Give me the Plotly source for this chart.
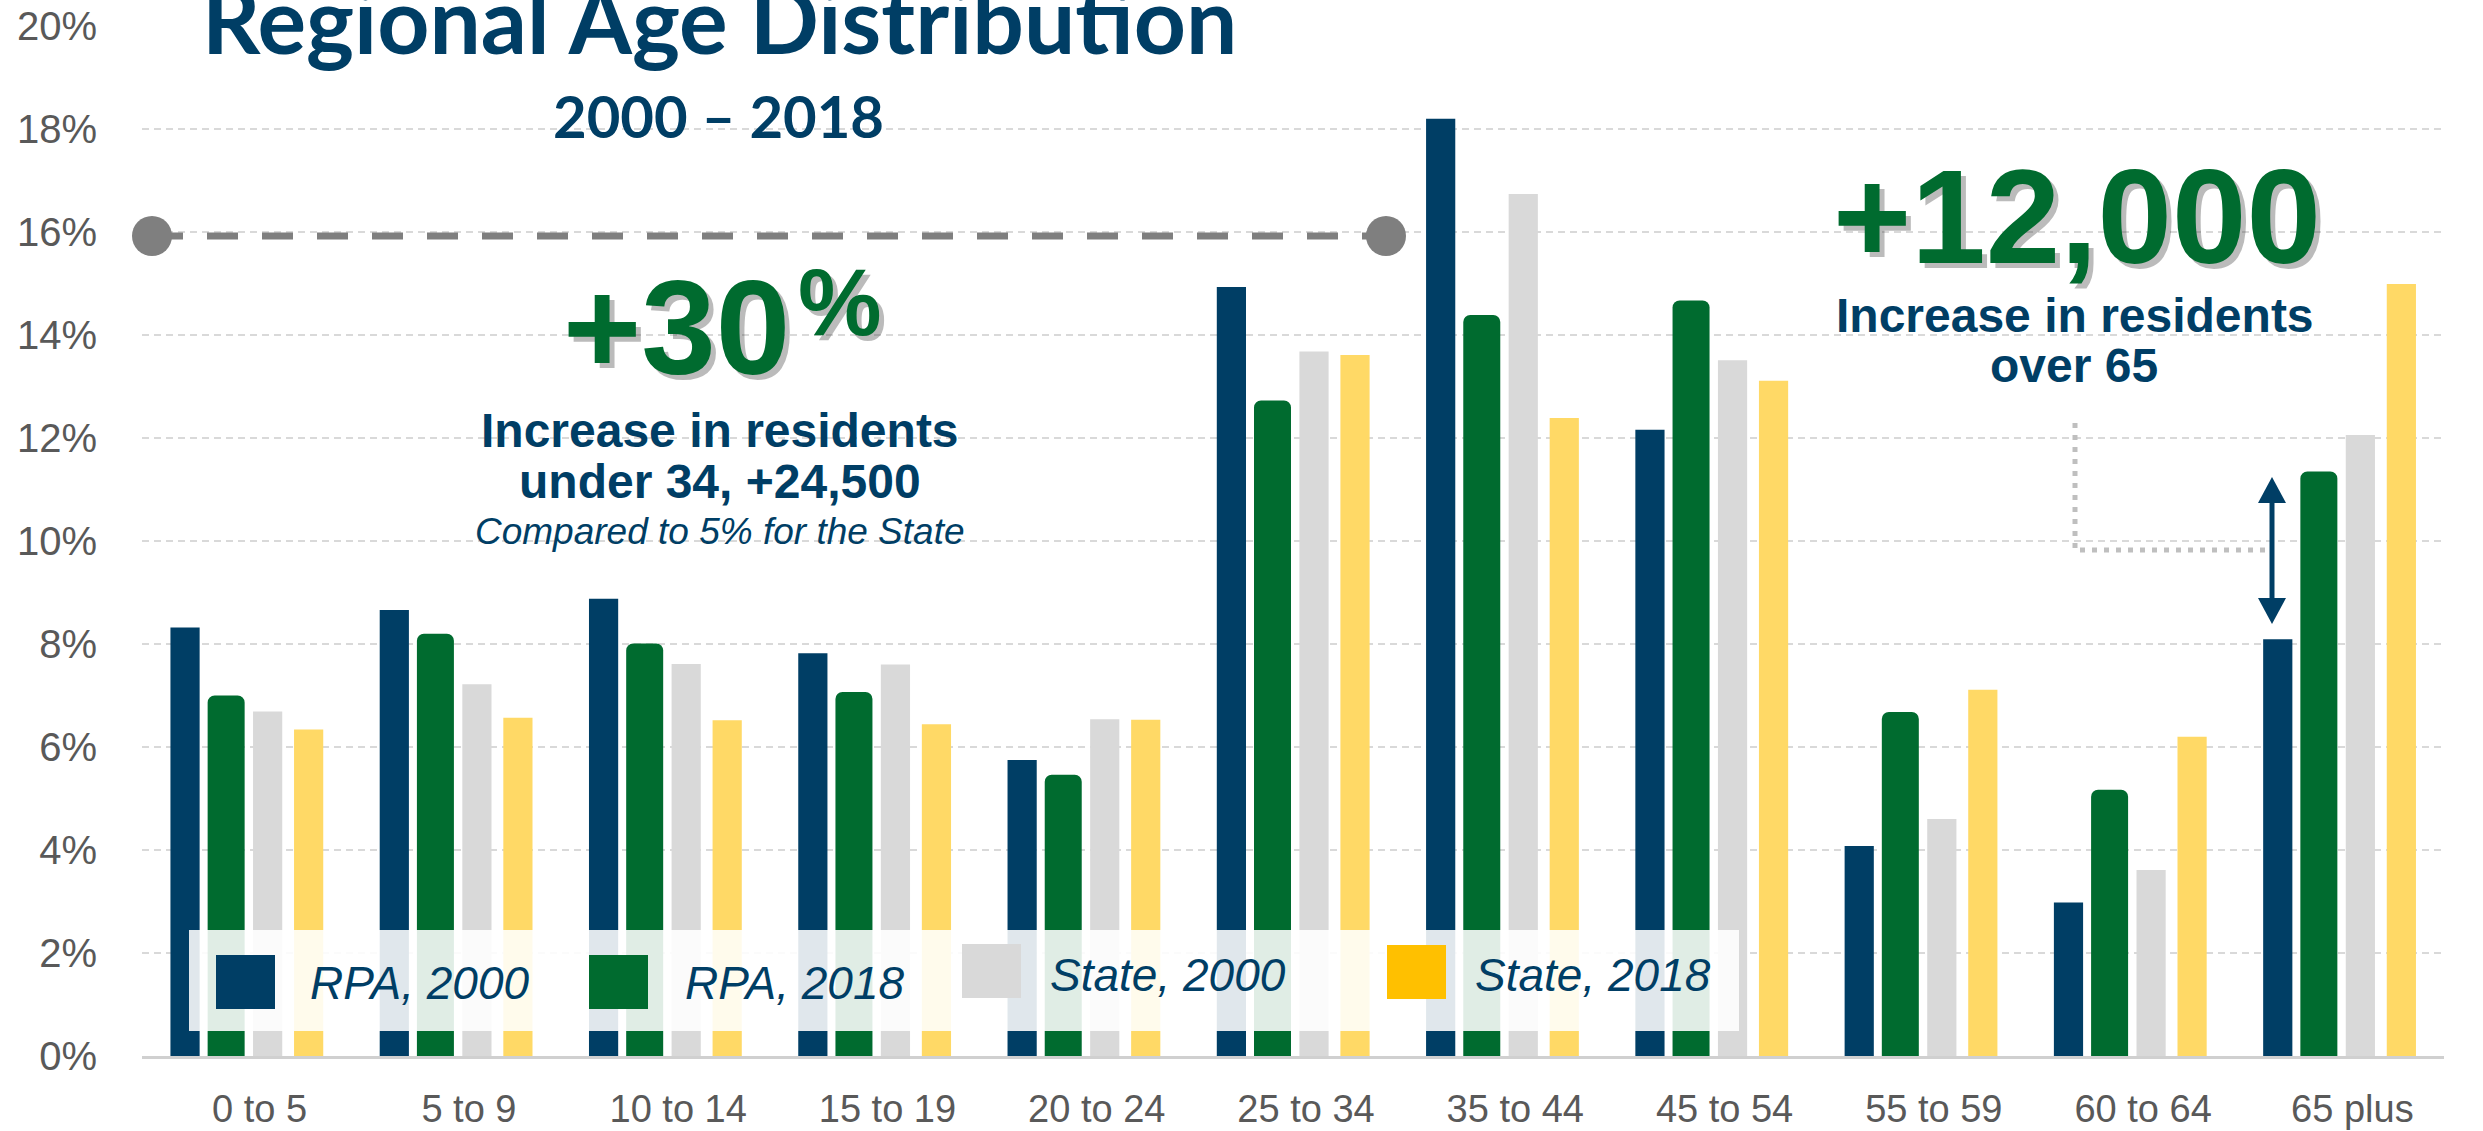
import plotly.graph_objects as go

categories = ["0 to 5", "5 to 9", "10 to 14", "15 to 19", "20 to 24", "25 to 34",
              "35 to 44", "45 to 54", "55 to 59", "60 to 64", "65 plus"]
rpa_2000 = [8.32, 8.66, 8.88, 7.82, 5.75, 14.93, 18.20, 12.16, 4.08, 2.98, 8.09]
rpa_2018 = [7.00, 8.20, 8.01, 7.07, 5.46, 12.73, 14.39, 14.67, 6.68, 5.17, 11.35]
state_2000 = [6.69, 7.22, 7.61, 7.60, 6.54, 13.68, 16.74, 13.51, 4.60, 3.61, 12.06]
state_2018 = [6.34, 6.57, 6.52, 6.44, 6.53, 13.61, 12.39, 13.11, 7.11, 6.20, 14.99]
series_names = ["RPA, 2000", "RPA, 2018", "State, 2000", "State, 2018"]
y_ticks = [0, 2, 4, 6, 8, 10, 12, 14, 16, 18, 20]
y_tick_labels = ["0%", "2%", "4%", "6%", "8%", "10%", "12%", "14%", "16%", "18%", "20%"]

BLUE = "#003E65"
GREEN = "#006B2F"
GRAY = "#D9D9D9"
YELLOW = "#FFD966"
GOLD = "#FFC000"
TEXT_BLUE = "#003E65"

W, H = 2483, 1131
ML, MR, MT, MB = 142, 39, 26, 75
PW = W - ML - MR
PH = H - MT - MB


def px(x):
    return (x - ML) / PW


def py(y):
    return (H - MB - y) / PH


# bar widths / offsets as fractions of one category slot
CAT = PW / len(categories)
NARROW = 29.2 / CAT
WIDE = 37.0 / CAT
bar_specs = [
    (rpa_2000, BLUE, -61.6, NARROW, 0),
    (rpa_2018, GREEN, -20.5, WIDE, 7),
    (state_2000, GRAY, 21.0, NARROW, 0),
    (state_2018, YELLOW, 62.0, NARROW, 0),
]

fig = go.Figure()
for (vals, col, center_px, wfrac, rad), name in zip(bar_specs, series_names):
    fig.add_bar(x=categories, y=vals, name=name,
                width=wfrac, offset=center_px / CAT - wfrac / 2,
                marker=dict(color=col, line=dict(width=0), cornerradius=rad))

shapes = []
annotations = []

# dashed reference line with end circles
shapes.append(dict(type="line", xref="paper", yref="paper",
                   x0=px(152), x1=px(1386), y0=py(236), y1=py(236),
                   line=dict(color="#7F7F7F", width=7, dash="31px,24px")))
for cx in (152, 1386):
    shapes.append(dict(type="circle", xref="paper", yref="paper",
                       x0=px(cx - 20), x1=px(cx + 20), y0=py(256), y1=py(216),
                       fillcolor="#7F7F7F", line=dict(width=0)))

# dotted L connector
shapes.append(dict(type="path", xref="paper", yref="paper",
                   path=f"M {px(2075)},{py(423)} L {px(2075)},{py(550)} L {px(2268)},{py(550)}",
                   line=dict(color="#BFBFBF", width=5, dash="5px,7px")))

# double-headed arrow
shapes.append(dict(type="line", xref="paper", yref="paper",
                   x0=px(2272), x1=px(2272), y0=py(500), y1=py(601),
                   line=dict(color=BLUE, width=5)))
shapes.append(dict(type="path", xref="paper", yref="paper",
                   path=f"M {px(2258)},{py(503)} L {px(2272)},{py(477)} L {px(2286)},{py(503)} Z",
                   fillcolor=BLUE, line=dict(width=0)))
shapes.append(dict(type="path", xref="paper", yref="paper",
                   path=f"M {px(2258)},{py(598)} L {px(2272)},{py(624)} L {px(2286)},{py(598)} Z",
                   fillcolor=BLUE, line=dict(width=0)))

# custom legend
shapes.append(dict(type="rect", xref="paper", yref="paper",
                   x0=px(189), x1=px(1739), y0=py(1031), y1=py(930),
                   fillcolor="rgba(255,255,255,0.88)", line=dict(width=0)))
legend_items = [
    (216, 955, BLUE, 308, 983),
    (589, 955, GREEN, 683, 983),
    (962, 944, GRAY, 1048, 975),
    (1387, 945, GOLD, 1473, 975),
]
for (sx, sy, col, tx, ty), name in zip(legend_items, series_names):
    shapes.append(dict(type="rect", xref="paper", yref="paper",
                       x0=px(sx), x1=px(sx + 59), y0=py(sy + 54), y1=py(sy),
                       fillcolor=col, line=dict(width=0)))
    annotations.append(dict(xref="paper", yref="paper", x=px(tx), y=py(ty),
                            xanchor="left", yanchor="middle", showarrow=False,
                            text=f"<i>{name}</i>",
                            font=dict(family="Liberation Sans, Arial", size=46, color=TEXT_BLUE)))


def ann(text, x, y, size, color, family="Liberation Sans, Arial", shadow=False, **kw):
    if shadow:
        annotations.append(dict(xref="paper", yref="paper", x=px(x), y=py(y),
                                xanchor="center", yanchor="middle", showarrow=False,
                                text=text, xshift=5, yshift=-5,
                                font=dict(family=family, size=size, color="rgba(60,60,60,0.35)"), **kw))
    annotations.append(dict(xref="paper", yref="paper", x=px(x), y=py(y),
                            xanchor="center", yanchor="middle", showarrow=False,
                            text=text, font=dict(family=family, size=size, color=color), **kw))


ann("<b>Regional Age Distribution</b>", 720, 19, 91, TEXT_BLUE, family="Lato")
ann("<b>2000 – 2018</b>", 718, 115, 58, TEXT_BLUE, family="Lato")

ann("<b>+30</b>", 676, 327, 134, GREEN, shadow=True)
ann("<b>%</b>", 840, 302, 94, GREEN, shadow=True)
ann("<b>Increase in residents</b>", 720, 430, 48, TEXT_BLUE)
ann("<b>under 34, +24,500</b>", 720, 481, 48, TEXT_BLUE)
ann("<i>Compared to 5% for the State</i>", 720, 531, 37, TEXT_BLUE)

ann("<b>+12,000</b>", 2077, 216, 134, GREEN, shadow=True)
ann("<b>Increase in residents</b>", 2075, 315, 48, TEXT_BLUE)
ann("<b>over 65</b>", 2074, 365, 48, TEXT_BLUE)

fig.update_layout(
    width=W, height=H,
    margin=dict(l=ML, r=MR, t=MT, b=MB, pad=0, autoexpand=False),
    paper_bgcolor="white", plot_bgcolor="white",
    barmode="overlay",
    showlegend=False,
    shapes=shapes, annotations=annotations,
    font=dict(family="Liberation Sans, Arial", color="#595959"),
)
fig.update_xaxes(automargin=False, showline=True, linecolor="#D0D0D0", linewidth=3, showgrid=False,
                 ticks="", tickfont=dict(size=38, color="#595959"),
                 ticklabelshift=13, ticklabelstandoff=17)
fig.update_yaxes(automargin=False, range=[0, 20.0001], tickmode="array", tickvals=y_ticks,
                 ticktext=y_tick_labels,
                 showgrid=True, gridcolor="#D9D9D9", gridwidth=2, griddash="7px,5px",
                 zeroline=False, showline=False, ticks="",
                 tickfont=dict(size=40, color="#595959"), ticklabelstandoff=44)

fig.write_html("out.html", config={"displayModeBar": False},
               post_script="document.body.style.margin='0';document.body.style.overflow='hidden';")
